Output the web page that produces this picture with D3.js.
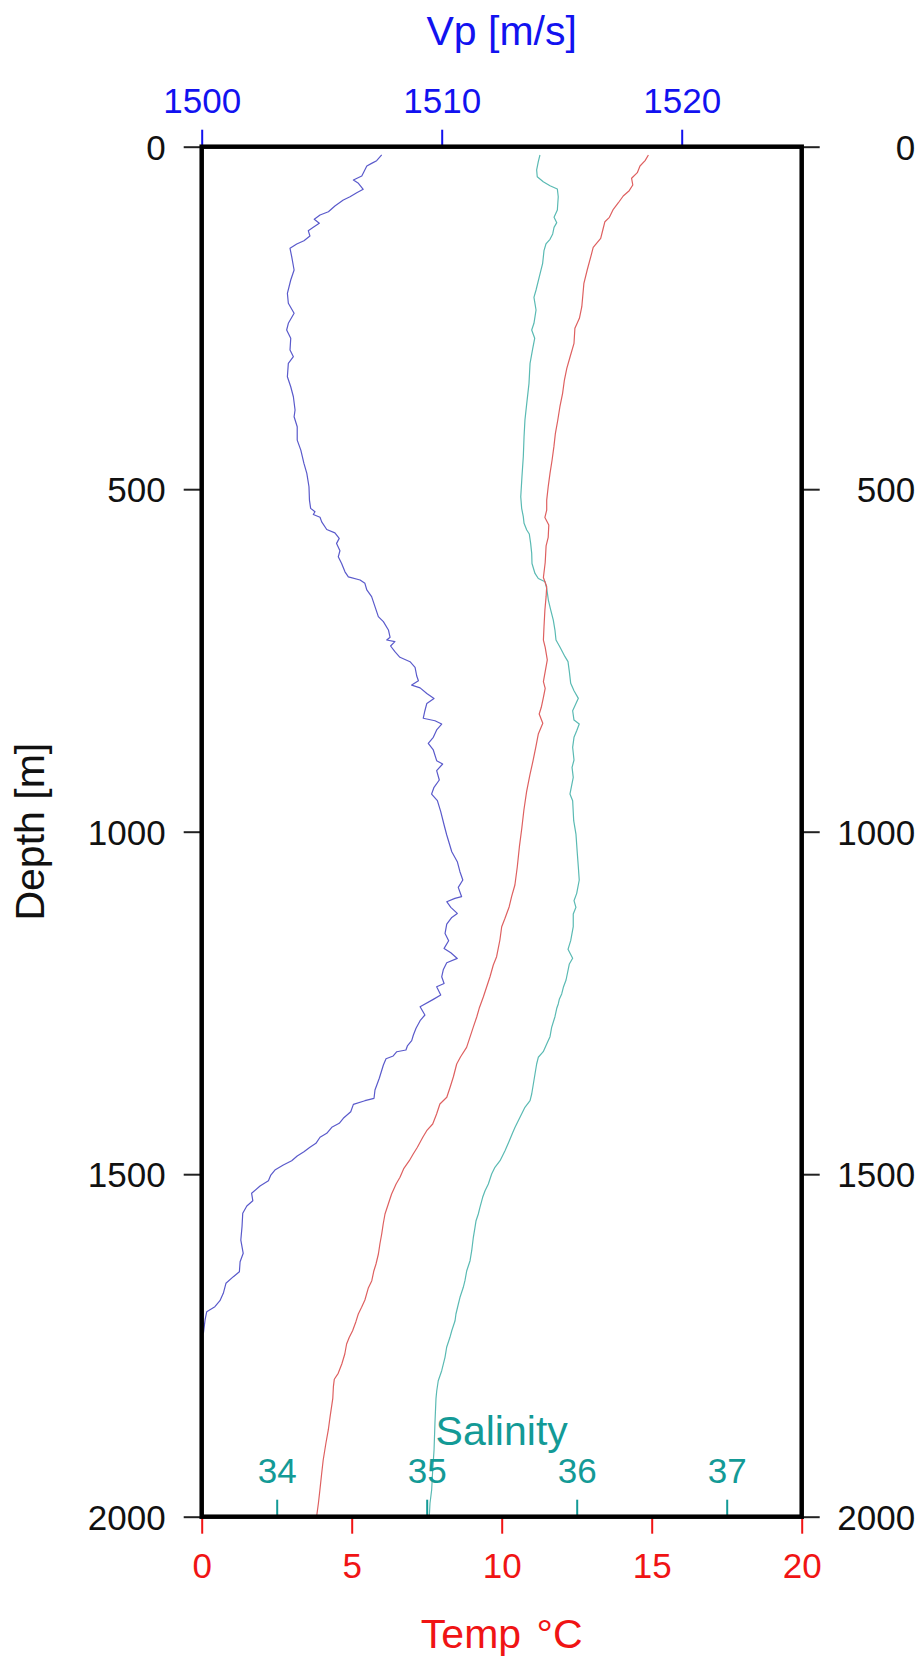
<!DOCTYPE html>
<html>
<head>
<meta charset="utf-8">
<script src="https://cdn.jsdelivr.net/npm/d3@7"></script>
<style>
  html, body { margin: 0; padding: 0; background: #fff; }
  svg { display: block; }
  text { font-family: "Liberation Sans", Arial, Helvetica, sans-serif; }
</style>
</head>
<body>
<svg id="chart" width="921" height="1663"></svg>
<script>
// ---- axis ticks ----
const depthTicks = [0, 500, 1000, 1500, 2000];
const vpTicks = [1500, 1510, 1520];
const tempTicks = [0, 5, 10, 15, 20];
const salTicks = [34, 35, 36, 37];

// ---- sound speed profile: depth [m] / Vp [m/s] ----
const vpDepth = [12,20.4,24.3,28.2,36.5,42.8,48.6,53.4,62.2,67.2,73,77.8,86.6,94.9,99.7,106,111.8,117.7,122.6,130.4,137.2,142,148.3,160.6,180,194.6,214,228.6,243.2,257.8,267.6,279.7,296.9,306.6,316.3,335.8,350.4,365,384.4,394.2,408.8,428.3,442.9,462.3,476.9,496.4,515.9,528,533,537,541,547.7,558.8,563.7,571.8,579.1,589.9,598.7,608.4,620.6,627.9,632.6,637.4,647.1,656.9,671.5,686.1,693.4,705.5,716.2,720.1,722.6,728.9,737.2,745.4,751.8,760,772.7,779.6,786,790,798.2,805.5,812.8,823.4,834.4,838,842.8,851.5,862.2,871,880.7,896.3,901.2,910.9,924.5,935.2,945,954.7,970.8,990.2,1004.8,1029.2,1043.8,1058.4,1070.5,1081.3,1094.9,1097.3,1102.2,1110.4,1119.3,1125.1,1134.8,1148.5,1159.2,1170.4,1176.8,1185,1191.4,1201.1,1211.8,1221.5,1226.4,1238.5,1244.8,1255.5,1267.6,1275.9,1287,1296.8,1305.1,1312.8,1318.7,1321.2,1327.4,1331.4,1340.6,1360,1377.1,1389.2,1392.7,1398,1408.8,1418.4,1425.7,1431.5,1440.3,1446.1,1454.9,1460.7,1467.2,1473.4,1480.3,1486.6,1493.9,1501.2,1509.5,1517.2,1527.9,1538.7,1546.4,1557.1,1576.6,1596.1,1615.5,1627.7,1642.3,1649.6,1659.3,1673.9,1684.7,1693.4,1700.7,1712.8,1732.3];
const vpSpeed = [1507.5,1507.29,1507.08,1506.88,1506.76,1506.67,1506.32,1506.53,1506.73,1506.46,1506.18,1505.9,1505.55,1505.28,1504.93,1504.69,1504.9,1504.65,1504.44,1504.51,1504.26,1503.96,1503.68,1503.75,1503.85,1503.71,1503.57,1503.61,1503.85,1503.61,1503.54,1503.71,1503.68,1503.82,1503.61,1503.57,1503.71,1503.82,1503.89,1503.85,1503.98,1503.98,1504.13,1504.26,1504.38,1504.47,1504.49,1504.54,1504.72,1504.65,1504.93,1505.0,1505.21,1505.55,1505.73,1505.62,1505.76,1505.69,1505.83,1505.97,1506.11,1506.6,1506.8,1506.88,1507.08,1507.22,1507.36,1507.57,1507.78,1507.85,1507.71,1508.05,1507.87,1508.05,1508.26,1508.68,1508.89,1508.96,1509.03,1508.75,1509.1,1509.38,1509.68,1509.38,1509.3,1509.23,1509.72,1510.0,1509.79,1509.65,1509.44,1509.65,1509.79,1510.04,1509.79,1509.9,1509.68,1509.58,1509.82,1509.96,1510.1,1510.21,1510.42,1510.65,1510.76,1510.88,1510.69,1510.83,1510.55,1510.21,1510.38,1510.65,1510.42,1510.21,1510.14,1510.29,1510.1,1510.38,1510.65,1510.21,1510.07,1510.0,1510.1,1509.79,1509.96,1509.65,1509.1,1509.3,1509.1,1508.93,1508.82,1508.75,1508.57,1508.51,1508.13,1507.98,1507.68,1507.57,1507.4,1507.22,1507.18,1506.8,1506.32,1506.21,1505.9,1505.73,1505.42,1505.21,1504.93,1504.76,1504.51,1504.26,1503.98,1503.75,1503.4,1503.05,1502.88,1502.78,1502.43,1502.08,1502.13,1501.88,1501.71,1501.68,1501.63,1501.73,1501.6,1501.57,1501.32,1501.01,1500.9,1500.76,1500.55,1500.21,1500.14,1500.07];

// ---- temperature profile: depth [m] / Temp [°C] ----
const tempDepth = [12.1,20.4,28.2,37.9,46.1,55.9,64.2,72,81.8,91.4,103.1,109.5,121.6,133.8,146.9,160.6,180,199.4,219,233.6,250.5,265.1,287,306.6,323.5,340.6,360,379.6,399,418.4,437.9,457.4,476.9,496.4,515.9,530.5,541.2,552.4,570.3,582.7,607,628.9,642.3,656.9,676.4,700.7,720.2,730.8,749.3,781,790.7,803.8,818.4,828.2,841.8,857.4,875.9,895.3,917.2,941.6,968.3,995,1021.9,1051.1,1077.8,1094.9,1109.5,1126.4,1138.7,1158.1,1182.5,1194.6,1211.7,1226.3,1240.9,1257.8,1270.1,1285.6,1300.2,1314.8,1328.5,1339.1,1357.7,1373.1,1387.7,1397.5,1412.1,1426.7,1436.5,1446.1,1460.7,1470.5,1480.3,1491.4,1504.5,1514.3,1528.9,1543.5,1558.1,1572.7,1587.3,1601.9,1616.5,1631.1,1640.9,1655.5,1666.6,1683.7,1694.3,1704.1,1715.3,1728.5,1738.1,1747.9,1762.5,1777.1,1790.7,1799.4,1810.2,1827.2,1854,1873.4,1892.8,1917.2,1936.6,1961,1980.4,2000];
const tempValues = [14.89,14.78,14.61,14.52,14.33,14.37,14.25,14.05,13.89,13.72,13.59,13.44,13.37,13.3,13.05,12.97,12.85,12.74,12.7,12.67,12.59,12.44,12.41,12.28,12.17,12.09,12.03,11.94,11.87,11.79,11.74,11.68,11.61,11.55,11.5,11.5,11.44,11.57,11.55,11.48,11.45,11.39,11.5,11.48,11.44,11.41,11.39,11.45,11.52,11.39,11.45,11.39,11.32,11.25,11.37,11.22,11.14,11.05,10.94,10.83,10.74,10.67,10.59,10.52,10.44,10.33,10.25,10.11,10.0,9.94,9.83,9.72,9.61,9.5,9.39,9.25,9.17,9.05,8.94,8.83,8.63,8.5,8.39,8.28,8.17,7.94,7.83,7.7,7.5,7.37,7.19,7.05,6.92,6.74,6.61,6.48,6.33,6.22,6.11,6.05,6.0,5.94,5.89,5.81,5.74,5.67,5.55,5.44,5.33,5.22,5.14,5.03,4.92,4.83,4.77,4.67,4.55,4.42,4.39,4.37,4.28,4.22,4.14,4.05,4.0,3.94,3.89,3.83];

// ---- salinity profile: depth [m] / Salinity ----
const salDepth = [12.1,21.9,34,43.8,51.1,56.9,61.8,73,92.4,103.1,110.9,117.7,127.4,135.2,142,151.8,170.2,189.8,209.2,219.9,238.4,257.8,267.6,279.7,294.3,316.3,345.5,374.7,399,423.4,452.6,481.8,511,527.9,540.1,549.8,559.6,565.4,579.1,593.7,608.4,623,630.3,635,644.7,661.8,676.4,691,705.6,720.2,730.8,744.5,751.8,766.4,783.4,794.2,805.3,823.4,837,842.8,852.6,862.2,876.8,895.3,906,920.6,945,954.7,983.9,1003.4,1031.5,1052,1070.5,1090,1100.7,1110.4,1120.1,1138.7,1159.1,1171.7,1184.8,1193.1,1216.5,1227.2,1236.9,1244.7,1251.5,1257.8,1270.1,1285.6,1299.3,1309.9,1321.2,1329.3,1339.1,1353.7,1368.3,1382.9,1392.7,1402.3,1416.9,1431.5,1439.4,1451.1,1465.7,1480.3,1489.9,1499.7,1514.3,1524.1,1533.7,1548.3,1558.1,1567.9,1577.5,1592.1,1611.7,1626.3,1640.9,1655.5,1665.1,1679.7,1689.5,1704.1,1713.9,1728.5,1738.1,1752.7,1767.3,1786.9,1801.5,1816.1,1827.2,1863.7,1902.6,1931.8,1961,1980.4,2000];
const salValues = [35.755,35.744,35.733,35.737,35.777,35.822,35.871,35.877,35.871,35.849,35.867,35.849,35.84,35.822,35.795,35.782,35.773,35.751,35.729,35.715,35.729,35.715,35.7,35.72,35.707,35.689,35.682,35.667,35.655,35.649,35.644,35.635,35.627,35.633,35.644,35.649,35.667,35.684,35.693,35.7,35.702,35.722,35.744,35.789,35.8,35.811,35.827,35.844,35.855,35.862,35.889,35.922,35.942,35.951,35.96,35.982,36.011,35.973,35.982,36.017,36.0,35.982,35.973,35.982,35.969,35.977,35.955,35.973,35.98,35.995,36.004,36.011,36.017,36.0,35.982,35.995,35.977,35.977,35.96,35.942,35.973,35.951,35.929,35.911,35.9,35.884,35.877,35.867,35.855,35.833,35.822,35.8,35.777,35.744,35.733,35.722,35.711,35.7,35.689,35.655,35.622,35.589,35.573,35.551,35.522,35.489,35.455,35.433,35.411,35.389,35.373,35.355,35.344,35.329,35.322,35.311,35.3,35.289,35.267,35.255,35.244,35.222,35.211,35.195,35.189,35.167,35.155,35.133,35.122,35.1,35.077,35.067,35.062,35.055,35.049,35.04,35.033,35.022,35.017];

// ---- colours ----
const C = {
  frame: "#000",
  depthTick: "#222",
  vpText: "#1212f0", vpLine: "#5a5acb",
  tText: "#f01414", tLine: "#de6060",
  sText: "#139a96", sLine: "#5abab3"
};

const plot = { left: 201.7, right: 801.7, top: 146.7, bottom: 1516.7 };
const svg = d3.select("#chart");

const y = d3.scaleLinear().domain([0, 2000]).range([plot.top, plot.bottom]);
const xVp = d3.scaleLinear().domain([1500, 1525]).range([plot.left, plot.right]);
const xT = d3.scaleLinear().domain([0, 20]).range([plot.left, plot.right]);
const xS = d3.scaleLinear().domain([33.5, 37.5]).range([plot.left, plot.right]);

// ---- profile curves ----
svg.append("defs").append("clipPath").attr("id", "plotClip")
  .append("rect").attr("x", plot.left).attr("y", plot.top)
  .attr("width", plot.right - plot.left).attr("height", plot.bottom - plot.top);

const curves = svg.append("g").attr("clip-path", "url(#plotClip)");
function profile(depths, values, xScale, colour) {
  const pts = depths.map((d, i) => [values[i], d]);
  curves.append("path")
    .datum(pts)
    .attr("fill", "none")
    .attr("stroke", colour)
    .attr("stroke-width", 1.2)
    .attr("stroke-linejoin", "round")
    .attr("d", d3.line().x(p => xScale(p[0])).y(p => y(p[1])));
}
profile(vpDepth, vpSpeed, xVp, C.vpLine);
profile(salDepth, salValues, xS, C.sLine);
profile(tempDepth, tempValues, xT, C.tLine);

// ---- axes ----
function styleAxis(g, colour, size, width) {
  g.select(".domain").remove();
  g.selectAll(".tick line").attr("stroke", colour).attr("stroke-width", width);
  g.selectAll(".tick text").attr("fill", colour).style("font-size", size + "px")
    .style("font-family", '"Liberation Sans", Arial, Helvetica, sans-serif');
}

// depth, left
const gL = svg.append("g").attr("transform", `translate(${plot.left},0)`)
  .call(d3.axisLeft(y).tickValues(depthTicks).tickSize(18).tickPadding(18).tickFormat(d3.format("d")));
styleAxis(gL, C.depthTick, 35, 2);
gL.selectAll(".tick text").attr("fill", "#111").attr("dy", "0.36em");

// depth, right (labels right-aligned)
const gR = svg.append("g").attr("transform", `translate(${plot.right},0)`)
  .call(d3.axisRight(y).tickValues(depthTicks).tickSize(18).tickFormat(d3.format("d")));
styleAxis(gR, C.depthTick, 35, 2);
gR.selectAll(".tick text").attr("fill", "#111").attr("text-anchor", "end").attr("x", 113.5).attr("dy", "0.36em");

// Vp, top
const gVp = svg.append("g").attr("transform", `translate(0,${plot.top})`)
  .call(d3.axisTop(xVp).tickValues(vpTicks).tickSize(17).tickPadding(17).tickFormat(d3.format("d")));
styleAxis(gVp, C.vpText, 35, 2);

// Temperature, bottom
const gT = svg.append("g").attr("transform", `translate(0,${plot.bottom})`)
  .call(d3.axisBottom(xT).tickValues(tempTicks).tickSize(17).tickPadding(19).tickFormat(d3.format("d")));
styleAxis(gT, C.tText, 35, 2);

// Salinity, inside along the bottom
const gS = svg.append("g").attr("transform", `translate(0,${plot.bottom})`)
  .call(d3.axisTop(xS).tickValues(salTicks).tickSize(17).tickPadding(17).tickFormat(d3.format("d")));
styleAxis(gS, C.sText, 35, 2);

// ---- frame ----
svg.append("rect")
  .attr("x", plot.left).attr("y", plot.top)
  .attr("width", plot.right - plot.left).attr("height", plot.bottom - plot.top)
  .attr("fill", "none").attr("stroke", C.frame).attr("stroke-width", 4.5);

// ---- axis titles ----
const cx = (plot.left + plot.right) / 2;
svg.append("text").attr("x", cx).attr("y", 45).attr("text-anchor", "middle")
  .attr("fill", C.vpText).style("font-size", "41px").text("Vp [m/s]");

const tTitle = svg.append("text").attr("x", cx).attr("y", 1648).attr("text-anchor", "middle")
  .attr("fill", C.tText).style("font-size", "41px");
tTitle.append("tspan").text("Temp ");
tTitle.append("tspan").attr("dx", 4).text("°C");

svg.append("text").attr("x", cx).attr("y", 1445).attr("text-anchor", "middle")
  .attr("fill", C.sText).style("font-size", "41px").text("Salinity");
svg.append("text").attr("transform", `translate(44,${y(1000)}) rotate(-90)`)
  .attr("text-anchor", "middle").attr("fill", "#111").style("font-size", "41px").text("Depth [m]");
</script>
</body>
</html>
